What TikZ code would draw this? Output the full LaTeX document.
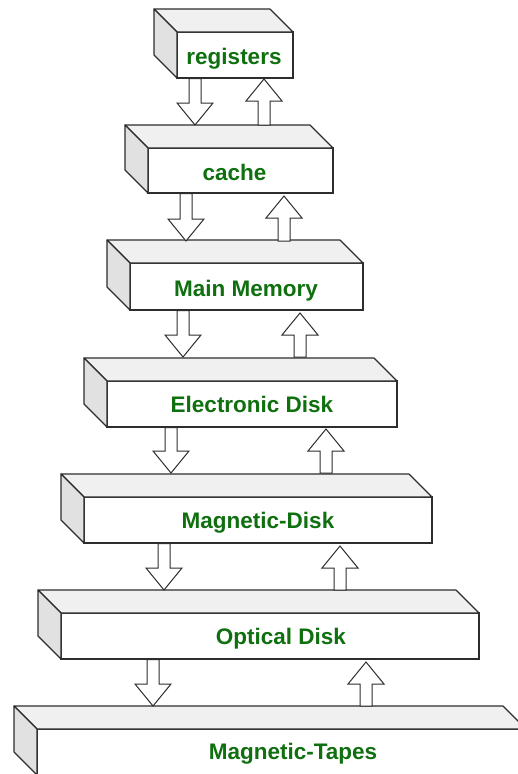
\documentclass[tikz,border=0pt]{standalone}
\usepackage{fontspec}
\setmainfont{Liberation Sans}
\usetikzlibrary{calc}
\definecolor{lbl}{RGB}{16,112,16}
\definecolor{topf}{RGB}{240,240,240}
\definecolor{sidef}{RGB}{225,225,225}
\definecolor{edge}{RGB}{45,45,45}
\tikzset{
  face/.style={draw=edge, line width=1.1pt, fill=white, rectangle, inner sep=0pt, outer sep=0pt},
  topface/.style={draw=edge, line width=1.1pt, fill=topf, line join=round},
  sideface/.style={draw=edge, line width=1.1pt, fill=sidef, line join=round},
  lbltext/.style={text=lbl, font=\bfseries\fontsize{22.5}{26}\selectfont, anchor=base, inner sep=0pt},
  blk/.style={draw=edge, line width=1pt, fill=white, line join=miter},
}
\newcommand\drawcube[5]{%
  \node[face, minimum width=#4pt, minimum height=#5pt] (#1) at (#2,#3) {};
  \draw[topface] (#1.north west) -- ++(-23,-23) -- ($(#1.north east)+(-23,-23)$) -- (#1.north east) -- cycle;
  \draw[sideface] (#1.north west) -- ++(-23,-23) -- ($(#1.south west)+(-23,-23)$) -- (#1.south west) -- cycle;
}
\newcommand\downblk[2]{%
  \draw[blk] ($(#1)+(-6,0)$) -- ($(#2)+(-6,-22)$) -- ($(#2)+(-18,-22)$) -- (#2)
    -- ($(#2)+(18,-22)$) -- ($(#2)+(6,-22)$) -- ($(#1)+(6,0)$) -- cycle;
}
\newcommand\upblk[2]{%
  \draw[blk] ($(#1)+(-6,0)$) -- ($(#2)+(-6,22)$) -- ($(#2)+(-18,22)$) -- (#2)
    -- ($(#2)+(18,22)$) -- ($(#2)+(6,22)$) -- ($(#1)+(6,0)$) -- cycle;
}
\begin{document}
\begin{tikzpicture}[x=1pt, y=-1pt]
  \useasboundingbox (0,0) rectangle (518,774);
  \clip (0,0) rectangle (518,774);
  % boxes
  \drawcube{reg}{235}{55}{116}{46}
  \drawcube{cache}{240.5}{170.5}{185}{45}
  \drawcube{mainm}{246.5}{286.5}{233}{47}
  \drawcube{elec}{252}{404}{290}{46}
  \drawcube{mdisk}{258}{520}{348}{46}
  \drawcube{opt}{270}{636}{418}{46}
  \drawcube{tapes}{281.5}{752}{489}{46}
  % labels
  \node[lbltext] (regT)   at (234,64)  {registers};
  \node[lbltext] (cacheT) at (234.5,180) {cache};
  \node[lbltext] (mainT)  at (246,296) {Main Memory};
  \node[lbltext] (elecT)  at (252,412) {Electronic Disk};
  \node[lbltext] (mdiskT) at (258,528) {Magnetic-Disk};
  \node[lbltext] (optT)   at (281,644) {Optical Disk};
  \node[lbltext] (tapesT) at (293,759) {Magnetic-Tapes};
  % arrow end points
  \coordinate (d1a) at (195,78.5);  \coordinate (d1b) at (195,125);
  \coordinate (d2a) at (186,193.5); \coordinate (d2b) at (186,241);
  \coordinate (d3a) at (183,310.5); \coordinate (d3b) at (183,357);
  \coordinate (d4a) at (171,427.5); \coordinate (d4b) at (171,473);
  \coordinate (d5a) at (164,543.5); \coordinate (d5b) at (164,590);
  \coordinate (d6a) at (153,659.5); \coordinate (d6b) at (153,706);
  \coordinate (u1a) at (264,125); \coordinate (u1b) at (264,79);
  \coordinate (u2a) at (284,241); \coordinate (u2b) at (284,196);
  \coordinate (u3a) at (300,357); \coordinate (u3b) at (300,313);
  \coordinate (u4a) at (326,473); \coordinate (u4b) at (326,429);
  \coordinate (u5a) at (340,590); \coordinate (u5b) at (340,546);
  \coordinate (u6a) at (366,706); \coordinate (u6b) at (366,662);
  % arrows
  \downblk{d1a}{d1b} \upblk{u1a}{u1b}
  \downblk{d2a}{d2b} \upblk{u2a}{u2b}
  \downblk{d3a}{d3b} \upblk{u3a}{u3b}
  \downblk{d4a}{d4b} \upblk{u4a}{u4b}
  \downblk{d5a}{d5b} \upblk{u5a}{u5b}
  \downblk{d6a}{d6b} \upblk{u6a}{u6b}
\end{tikzpicture}
\end{document}
